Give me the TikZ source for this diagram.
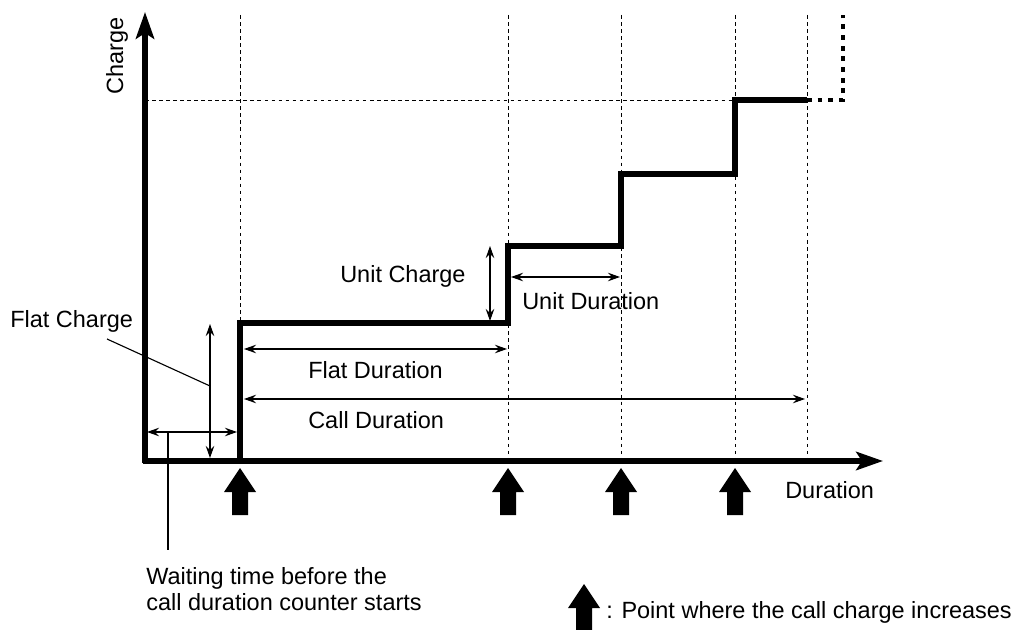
\documentclass[tikz,border=0pt]{standalone}
\usepackage{fontspec}
\setmainfont{Liberation Sans}
\usepackage{tikz}
\usetikzlibrary{arrows.meta}

\tikzset{
  axis/.style={line width=3.6pt, -{Stealth[length=19pt, width=13pt, inset=4pt]}},
  stairs/.style={line width=3.6pt, line join=miter},
  stairsdots/.style={line width=3.4pt, dash pattern=on 3.4pt off 4.2pt},
  guide/.style={line width=0.7pt, dash pattern=on 2.5pt off 2.5pt},
  dimline/.style={line width=0.8pt, {Stealth[length=8.5pt, width=6pt]}-{Stealth[length=8.5pt, width=6pt]}},
  leader/.style={line width=0.8pt},
  lbl/.style={inner sep=0pt},
  risemark/.pic={\fill (0,0) -- (16,24) -- (8,24) -- (8,47) -- (-8,47) -- (-8,24) -- (-16,24) -- cycle;}
}

\begin{document}
\begin{tikzpicture}[x=0.025cm, y=-0.025cm, font=\fontsize{16.7}{18.4}\selectfont]
\useasboundingbox (0,0) rectangle (1021,630);
% сетка
\foreach \t in {240,508,621,735,807} \draw [guide] (\t,15) -- (\t,461);
\draw [guide] (145,100) -- (735,100);
% ступени
\draw [stairs] (240,461) -- (240,323) -- (508,323) -- (508,246) -- (621,246)
  -- (621,174) -- (735,174) -- (735,100) -- (807,100);
\draw [stairsdots] (807,100) -- (843,100) -- (843,15);
% оси
\coordinate (O) at (145,461);
\draw [axis] (145,463) -- (145,12);
\draw [axis] (143,461) -- (883,461);
% размеры
\coordinate (wA) at (147,432);
\coordinate (wB) at (237,432);
\coordinate (wM) at (168,432);
\coordinate (fcA) at (210,324);
\coordinate (fcB) at (210,458);
\coordinate (fcM) at (210,386);
\coordinate (fdA) at (244,349);
\coordinate (fdB) at (507,349);
\coordinate (cdA) at (244,399);
\coordinate (cdB) at (805,399);
\coordinate (ucA) at (490,246);
\coordinate (ucB) at (490,321);
\coordinate (udA) at (511,277);
\coordinate (udB) at (620,277);
\draw [dimline] (wA) -- (wB);
\draw [dimline] (fcA) -- (fcB);
\draw [dimline] (fdA) -- (fdB);
\draw [dimline] (cdA) -- (cdB);
\draw [dimline] (ucA) -- (ucB);
\draw [dimline] (udA) -- (udB);
% отметки роста
\foreach \t in {240,508,621,735} \pic at (\t,468) {risemark};
\pic at (584,584) {risemark};
% подписи
\node [lbl, anchor=base west, rotate=90] (charge) at (123,95) {Charge};
\node [lbl, anchor=base west] (duration) at (785,498) {Duration};
\node [lbl, anchor=base west] (flatcharge) at (10,327) {Flat Charge};
\node [lbl, anchor=base west] (unitcharge) at (340,283) {Unit Charge};
\node [lbl, anchor=base west] (unitdur) at (522,310) {Unit Duration};
\node [lbl, anchor=base west] (flatdur) at (308,378) {Flat Duration};
\node [lbl, anchor=base west] (calldur) at (308,428) {Call Duration};
\node [lbl, anchor=north west, align=left] (waiting) at (146,567)
  {Waiting time before the\\call duration counter starts};
\node [lbl, anchor=base west] (legend) at (606,618) {: Point where the call charge increases};
% выноски
\coordinate (fcL) at (107,339);
\coordinate (wL) at (168,550);
\draw [leader] (fcL) -- (fcM);
\draw [leader] (wM) -- (wL);
\end{tikzpicture}
\end{document}
